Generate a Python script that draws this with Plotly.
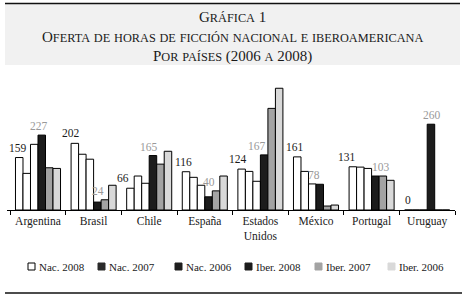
import plotly.graph_objects as go

countries = ["Argentina", "Brasil", "Chile", "España", "Estados<br>Unidos", "México", "Portugal", "Uruguay"]
series_names = ["Nac. 2008", "Nac. 2007", "Nac. 2006", "Iber. 2008", "Iber. 2007", "Iber. 2006"]
nac_2008 = [159, 202, 66, 116, 124, 161, 131, 0]
nac_2007 = [111, 169, 103, 99, 117, 117, 130, 0]
nac_2006 = [199, 154, 81, 75, 87, 79, 126, 0]
iber_2008 = [227, 24, 165, 40, 167, 78, 103, 260]
iber_2007 = [128, 31, 139, 58, 308, 12, 103, 0]
iber_2006 = [126, 75, 178, 103, 369, 15, 90, 0]
series_values = [nac_2008, nac_2007, nac_2006, iber_2008, iber_2007, iber_2006]

bar_colors = ["white", "white", "white", "#1c1c1c", "#a3a3a3", "#d9d9d9"]
legend_colors = ["white", "#2a2a2a", "#1e1e1e", "#1c1c1c", "#a3a3a3", "#d9d9d9"]

FONT = "Liberation Serif, Times New Roman, serif"
TXT = "#1a1a1a"

W, H = 462, 297
L, R, T, B = 7, 7, 80, 87
pw, ph = W - L - R, H - T - B
def px(xp): return (xp - L) / pw
def py(yp): return (H - B - yp) / ph

fig = go.Figure()
for name, vals, col in zip(series_names, series_values, bar_colors):
    fig.add_trace(go.Bar(
        x=countries, y=vals, name=name, marker_color=col,
        marker_line_color="black", marker_line_width=1, showlegend=False,
    ))

# value labels: Nac. 2008 (black) and Iber. 2008 (gray)
nac_shift = [-20, -23, -26, -21, -22, -21, -25, -19]
iber_shift = [1, 4, 0, 4, -3, -2, 9, 5]
lift_over_next = [1, 3]  # labels placed above the neighbouring Iber. 2007 bar
for i, c in enumerate(countries):
    fig.add_annotation(x=c, y=nac_2008[i], text=str(nac_2008[i]), showarrow=False,
                       xref="x", yref="y", yanchor="bottom", xshift=nac_shift[i], yshift=2,
                       font=dict(family=FONT, size=11.5, color=TXT))
    ylab = max(iber_2008[i], iber_2007[i]) if i in lift_over_next else iber_2008[i]
    fig.add_annotation(x=c, y=ylab, text=str(iber_2008[i]),
                       showarrow=False, xref="x", yref="y", yanchor="bottom", xshift=iber_shift[i], yshift=1,
                       font=dict(family=FONT, size=11.5, color="#999999"))

fig.add_shape(type="rect", xref="paper", yref="paper", x0=px(5), x1=px(460), y0=py(65), y1=py(4),
              line_width=0, fillcolor="#f1f1f1", layer="below")
fig.add_shape(type="line", xref="paper", yref="paper", x0=px(5), x1=px(460), y0=py(3.5), y1=py(3.5),
              line=dict(color="#111", width=1.3))
fig.add_shape(type="line", xref="paper", yref="paper", x0=px(5), x1=px(462), y0=py(293), y1=py(293),
              line=dict(color="#111", width=1.3))

def sc(text, big=15, small=12.3):
    out = []
    for word in text.split(" "):
        parts = []
        for ch in word:
            if ch.isupper() or ch.isdigit() or ch in "()":
                parts.append(f"<span style='font-size:{big}px'>{ch}</span>")
            else:
                parts.append(f"<span style='font-size:{small}px'>{ch.upper()}</span>")
        out.append("".join(parts))
    return " ".join(out)

title_lines = [("Gráfica 1", 17), ("Oferta de horas de ficción nacional e iberoamericana", 37), ("Por países (2006 a 2008)", 56)]
for t, yc in title_lines:
    fig.add_annotation(xref="paper", yref="paper", x=px(232), y=py(yc), text=sc(t), showarrow=False,
                       xanchor="center", yanchor="middle", font=dict(family=FONT, size=15, color=TXT))

# custom legend
leg_x = [28, 98, 175, 245, 315, 388]
for name, col, lx in zip(series_names, legend_colors, leg_x):
    fig.add_shape(type="rect", xref="paper", yref="paper", x0=px(lx), x1=px(lx + 7), y0=py(270), y1=py(263),
                  line=dict(color="black" if col == "white" else col, width=1), fillcolor=col)
    fig.add_annotation(xref="paper", yref="paper", x=px(lx + 9), y=py(266.5), text=name, showarrow=False,
                       xanchor="left", yanchor="middle", font=dict(family=FONT, size=11, color=TXT))

fig.update_layout(
    width=W, height=H, margin=dict(l=L, r=R, t=T, b=B),
    paper_bgcolor="white", plot_bgcolor="white",
    barmode="group", bargap=0.19, bargroupgap=0,
    font=dict(family=FONT, size=12, color=TXT),
    xaxis=dict(showline=True, linecolor="black", linewidth=1, ticks="outside", ticklen=4,
               tickcolor="black", tickson="boundaries", showgrid=False, tickangle=0,
               tickfont=dict(family=FONT, size=11.5, color=TXT)),
    yaxis=dict(visible=False, range=[0, 394], showgrid=False),
)

fig.write_html("out.html", config={"displayModeBar": False},
               post_script="document.body.style.margin='0';document.body.style.overflow='hidden';")
